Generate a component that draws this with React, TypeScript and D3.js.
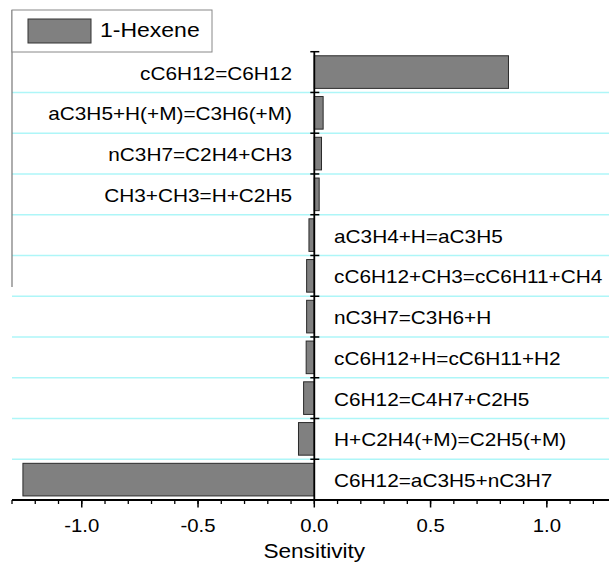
import React from "react";
import * as d3 from "d3";

const categories = [
  "cC6H12=C6H12",
  "aC3H5+H(+M)=C3H6(+M)",
  "nC3H7=C2H4+CH3",
  "CH3+CH3=H+C2H5",
  "aC3H4+H=aC3H5",
  "cC6H12+CH3=cC6H11+CH4",
  "nC3H7=C3H6+H",
  "cC6H12+H=cC6H11+H2",
  "C6H12=C4H7+C2H5",
  "H+C2H4(+M)=C2H5(+M)",
  "C6H12=aC3H5+nC3H7",
];
const values = [0.835, 0.038, 0.031, 0.021, -0.023, -0.033, -0.033, -0.035, -0.046, -0.068, -1.253];
const majorTicks = [-1.0, -0.5, 0.0, 0.5, 1.0];
const tickLabels = ["-1.0", "-0.5", "0.0", "0.5", "1.0"];
const seriesName = "1-Hexene";
const xTitle = "Sensitivity";

const W = 609;
const H = 562;
const FONT = "'Liberation Sans', Arial, sans-serif";

export default function App() {
  const x = d3.scaleLinear().domain([-1.3, 1.3]).range([12, 616.6]);
  const y = d3
    .scaleBand<string>()
    .domain(categories)
    .range([51.7, 500])
    .paddingInner(0.2)
    .paddingOuter(0.1);
  const step = y.step();
  const x0 = x(0);
  const top = y.range()[0];
  const bottom = y.range()[1];
  const boundaries = categories.map((c) => (y(c) as number) - step * 0.1);
  boundaries.push(bottom);
  const minorTicks = d3.range(-13, 14).map((i) => i / 10);

  return (
    <svg
      width={W}
      height={H}
      style={{ position: "absolute", left: 0, top: 0, background: "#fff" }}
      fontFamily={FONT}
    >
      <rect x={0} y={0} width={W} height={H} fill="#fff" />
      {/* grid lines */}
      {boundaries.slice(1, -1).map((b, i) => (
        <line key={"g" + i} x1={12} x2={W} y1={b} y2={b} stroke="#aef6f8" strokeWidth={1.6} />
      ))}
      {/* legend frame + left vertical line */}
      <line x1={12} x2={12} y1={10} y2={287} stroke="#777" strokeWidth={1.2} />
      <rect x={12} y={10} width={200} height={42} fill="#fff" stroke="#888" strokeWidth={1} />
      <rect x={28} y={19} width={63} height={24} fill="#808080" stroke="#333" strokeWidth={1} />
      <text x={100} y={37.5} fontSize={19.5} transform="translate(100,0) scale(1.18,1) translate(-100,0)">
        {seriesName}
      </text>
      {/* bars */}
      {categories.map((c, i) => {
        const v = values[i];
        const xa = Math.min(x(0), x(v));
        const w = Math.abs(x(v) - x(0));
        return (
          <rect
            key={"b" + i}
            x={xa}
            y={y(c)}
            width={w}
            height={y.bandwidth()}
            fill="#808080"
            stroke="#2a2a2a"
            strokeWidth={1}
          />
        );
      })}
      {/* category labels */}
      {categories.map((c, i) => {
        const v = values[i];
        const cy = (y(c) as number) + y.bandwidth() / 2;
        const pos = v >= 0;
        const tx = pos ? 292 : 334;
        return (
          <text
            key={"l" + i}
            x={tx}
            y={cy + 7.5}
            fontSize={19}
            textAnchor={pos ? "end" : "start"}
            transform={`translate(${tx},0) scale(1.095,1) translate(${-tx},0)`}
          >
            {c}
          </text>
        );
      })}
      {/* y axis */}
      <line x1={x0} x2={x0} y1={top} y2={bottom} stroke="#000" strokeWidth={1.8} />
      {boundaries.map((b, i) => (
        <line key={"yt" + i} x1={x0 - 4} x2={x0 + 5} y1={b} y2={b} stroke="#000" strokeWidth={1.5} />
      ))}
      {/* x axis */}
      <line x1={12} x2={W} y1={bottom} y2={bottom} stroke="#000" strokeWidth={1.8} />
      {minorTicks.map((t, i) => (
        <line key={"mt" + i} x1={x(t)} x2={x(t)} y1={bottom} y2={bottom + 4} stroke="#000" strokeWidth={1.3} />
      ))}
      {majorTicks.map((t, i) => (
        <g key={"Mt" + i}>
          <line x1={x(t)} x2={x(t)} y1={bottom} y2={bottom + 7.5} stroke="#000" strokeWidth={1.5} />
          <text
            x={x(t)}
            y={531.7}
            fontSize={18.5}
            textAnchor="middle"
            transform={`translate(${x(t)},0) scale(1.1,1) translate(${-x(t)},0)`}
          >
            {tickLabels[i]}
          </text>
        </g>
      ))}
      <text
        x={x0}
        y={558.5}
        fontSize={19.5}
        textAnchor="middle"
        transform={`translate(${x0},0) scale(1.16,1) translate(${-x0},0)`}
      >
        {xTitle}
      </text>
    </svg>
  );
}
